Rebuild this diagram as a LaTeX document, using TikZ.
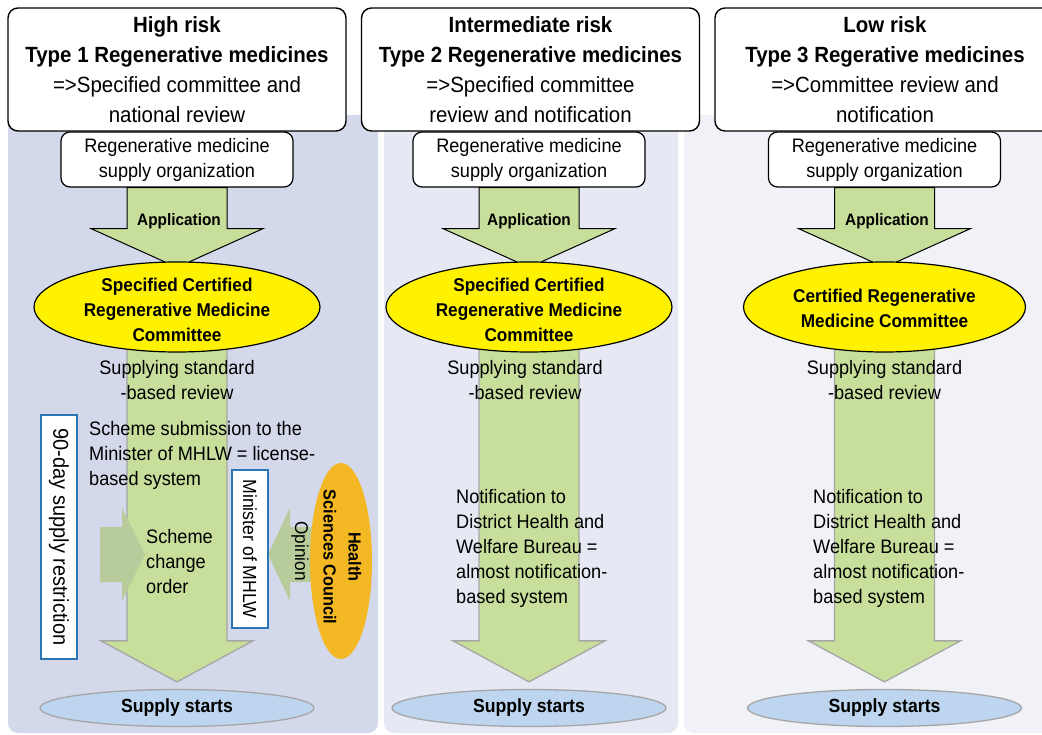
\documentclass[tikz,border=0pt]{standalone}
\usepackage{fontspec}
\setmainfont{Liberation Sans}[FakeStretch=0.93]
\usetikzlibrary{shapes.geometric,calc}

\definecolor{paneA}{HTML}{D3D8EA}
\definecolor{paneB}{HTML}{E6E9F3}
\definecolor{paneC}{HTML}{F0F2F8}
\definecolor{leaf}{HTML}{C8DF9C}
\definecolor{leafdark}{HTML}{B8CB9B}
\definecolor{committee}{HTML}{FFF200}
\definecolor{council}{HTML}{F4B824}
\definecolor{startfill}{HTML}{BDD5EE}
\definecolor{frameblue}{HTML}{2E75B6}
\definecolor{edgegray}{HTML}{A6A6A6}

\pgfdeclarelayer{back}
\pgfdeclarelayer{mid}
\pgfsetlayers{back,mid,main}

% block arrow from a box down to a committee ellipse
\newcommand\applyarrow[2]{%
  \draw[apparrow] ($(#1.south)+(-50,0)$) -- ($(#1.south)+(50,0)$)
    -- ($(#1.south)+(50,41)$) -- ($(#1.south)+(86,41)$)
    -- ($(#2.north)+(0,6)$)
    -- ($(#1.south)+(-86,41)$) -- ($(#1.south)+(-50,41)$) -- cycle;}
% long block arrow from a committee down to the start of supply
\newcommand\flowarrow[2]{%
  \draw[bigarrow] ($(#1.center)+(-50,0)$) -- ($(#1.center)+(50,0)$)
    -- ($(#2.north)+(50,-48)$) -- ($(#2.north)+(76,-48)$)
    -- ($(#2.north)+(0,-7)$)
    -- ($(#2.north)+(-76,-48)$) -- ($(#2.north)+(-50,-48)$) -- cycle;}

\begin{document}
\begin{tikzpicture}[x=1pt,y=-1pt,
  topbox/.style={draw=black, line width=1.4, fill=white, rounded corners=10,
    minimum width=338, minimum height=123, inner sep=0, align=center,
    font=\fontsize{22}{30}\selectfont},
  orgbox/.style={draw=black, line width=1.2, fill=white, rounded corners=9,
    minimum width=232, minimum height=55, inner sep=0, align=center,
    font=\fontsize{19.5}{25}\selectfont},
  committeeell/.style={ellipse, draw=black, line width=1.2, fill=committee,
    minimum width=286, minimum height=90, inner sep=0},
  startell/.style={ellipse, draw=edgegray, line width=1.3, fill=startfill,
    minimum width=274, minimum height=37, inner sep=0,
    font=\bfseries\fontsize{19}{25}\selectfont},
  boldtxt/.style={inner sep=0, align=center, font=\bfseries\fontsize{18.5}{25}\selectfont},
  bodytxt/.style={inner sep=0, align=center, font=\fontsize{19.5}{25}\selectfont},
  lefttxt/.style={inner sep=0, align=left, anchor=west, font=\fontsize{19.5}{25}\selectfont},
  apptxt/.style={inner sep=0, font=\bfseries\fontsize{16.5}{20}\selectfont},
  bluebox/.style={draw=frameblue, line width=2.2, fill=white, inner sep=0,
    rotate=-90, minimum height=36},
  apparrow/.style={draw=black, line width=1, fill=leaf},
  bigarrow/.style={draw=edgegray, line width=1.3, fill=leaf},
  sidearrow/.style={fill=leafdark}
]
\useasboundingbox (0,0) rectangle (1042,735);
\clip (0,0) rectangle (1042,735);

% panels behind the three columns
\begin{pgfonlayer}{back}
  \fill[white] (0,0) rectangle (1042,735);
  \fill[paneA] (8,115) -- (8,723) arc[start angle=180, end angle=90, radius=10]
    -- (368,733) arc[start angle=90, end angle=0, radius=10] -- (378,115) -- cycle;
  \fill[paneB] (384,115) -- (384,723) arc[start angle=180, end angle=90, radius=10]
    -- (668,733) arc[start angle=90, end angle=0, radius=10] -- (678,115) -- cycle;
  \fill[paneC] (684,115) -- (684,723) arc[start angle=180, end angle=90, radius=10]
    -- (1050,733) -- (1050,115) -- cycle;
\end{pgfonlayer}

% column headings
\node[topbox] (top1) at (177,69.5)
  {\textbf{High risk}\\\textbf{Type 1 Regenerative medicines}\\=>Specified committee and\\national review};
\node[topbox] (top2) at (530.5,69.5)
  {\textbf{Intermediate risk}\\\textbf{Type 2 Regenerative medicines}\\=>Specified committee\\review and notification};
\node[topbox, minimum width=340] (top3) at (885,69.5)
  {\textbf{Low risk}\\\textbf{Type 3 Regerative medicines}\\=>Committee review and\\notification};

% suppliers
\node[orgbox] (org1) at (177,159.5) {Regenerative medicine\\supply organization};
\node[orgbox] (org2) at (529,159.5) {Regenerative medicine\\supply organization};
\node[orgbox] (org3) at (884.5,159.5) {Regenerative medicine\\supply organization};

% committees
\node[committeeell] (com1) at (177,307) {};
\node[boldtxt] (com1t) at (177,310) {Specified Certified\\Regenerative Medicine\\Committee};
\node[committeeell] (com2) at (529,307) {};
\node[boldtxt] (com2t) at (529,310) {Specified Certified\\Regenerative Medicine\\Committee};
\node[committeeell, minimum width=282] (com3) at (884.5,307) {};
\node[boldtxt] (com3t) at (884.5,308) {Certified Regenerative\\Medicine Committee};

% start of supply
\node[startell] (sup1) at (177,708) {Supply starts};
\node[startell] (sup2) at (529,708) {Supply starts};
\node[startell] (sup3) at (884.5,708) {Supply starts};

% block arrows
\begin{pgfonlayer}{mid}
  \applyarrow{org1}{com1}
  \applyarrow{org2}{com2}
  \applyarrow{org3}{com3}
  \flowarrow{com1}{sup1}
  \flowarrow{com2}{sup2}
  \flowarrow{com3}{sup3}
  % scheme change order pushed onto the flow
  \fill[sidearrow] (100,527) -- (122,527) -- (122,508) -- (145,554.5)
    -- (122,601) -- (122,582) -- (100,582) -- cycle;
  % opinion towards the minister
  \fill[sidearrow] (268,554.5) -- (290,508) -- (290,527) -- (325,527)
    -- (325,582) -- (290,582) -- (290,601) -- cycle;
\end{pgfonlayer}

\node[apptxt] (app1) at (179,221) {Application};
\node[apptxt] (app2) at (529,221) {Application};
\node[apptxt] (app3) at (887,221) {Application};

% review steps
\node[bodytxt] (rev1) at (177,380) {Supplying standard\\-based review};
\node[bodytxt] (rev2) at (525,380) {Supplying standard\\-based review};
\node[bodytxt] (rev3) at (884.5,380) {Supplying standard\\-based review};

\node[lefttxt] (scheme) at (89,455) {Scheme submission to the\\Minister of MHLW = license-\\based system};
\node[lefttxt] (change) at (146,562) {Scheme\\change\\order};
\node[lefttxt] (note2) at (456,548) {Notification to\\District Health and\\Welfare Bureau =\\almost notification-\\based system};
\node[lefttxt] (note3) at (813,548) {Notification to\\District Health and\\Welfare Bureau =\\almost notification-\\based system};

% national review parties
\node[bluebox, minimum width=244, font=\fontsize{21.5}{25}\selectfont] (limit) at (59,537) {90-day supply restriction};
\node[bluebox, minimum width=158, font=\fontsize{19}{25}\selectfont] (minister) at (250,549) {Minister of MHLW};
\node[inner sep=0, rotate=-90, font=\fontsize{18.5}{25}\selectfont] (opinion) at (300,551) {Opinion};
\node[ellipse, fill=council, minimum width=62, minimum height=196, inner sep=0] (council) at (341,561) {};
\node[boldtxt, rotate=-90, font=\bfseries\fontsize{17.5}{25}\selectfont] (councilt) at (342.5,557) {Health\\Sciences Council};
\end{tikzpicture}
\end{document}
